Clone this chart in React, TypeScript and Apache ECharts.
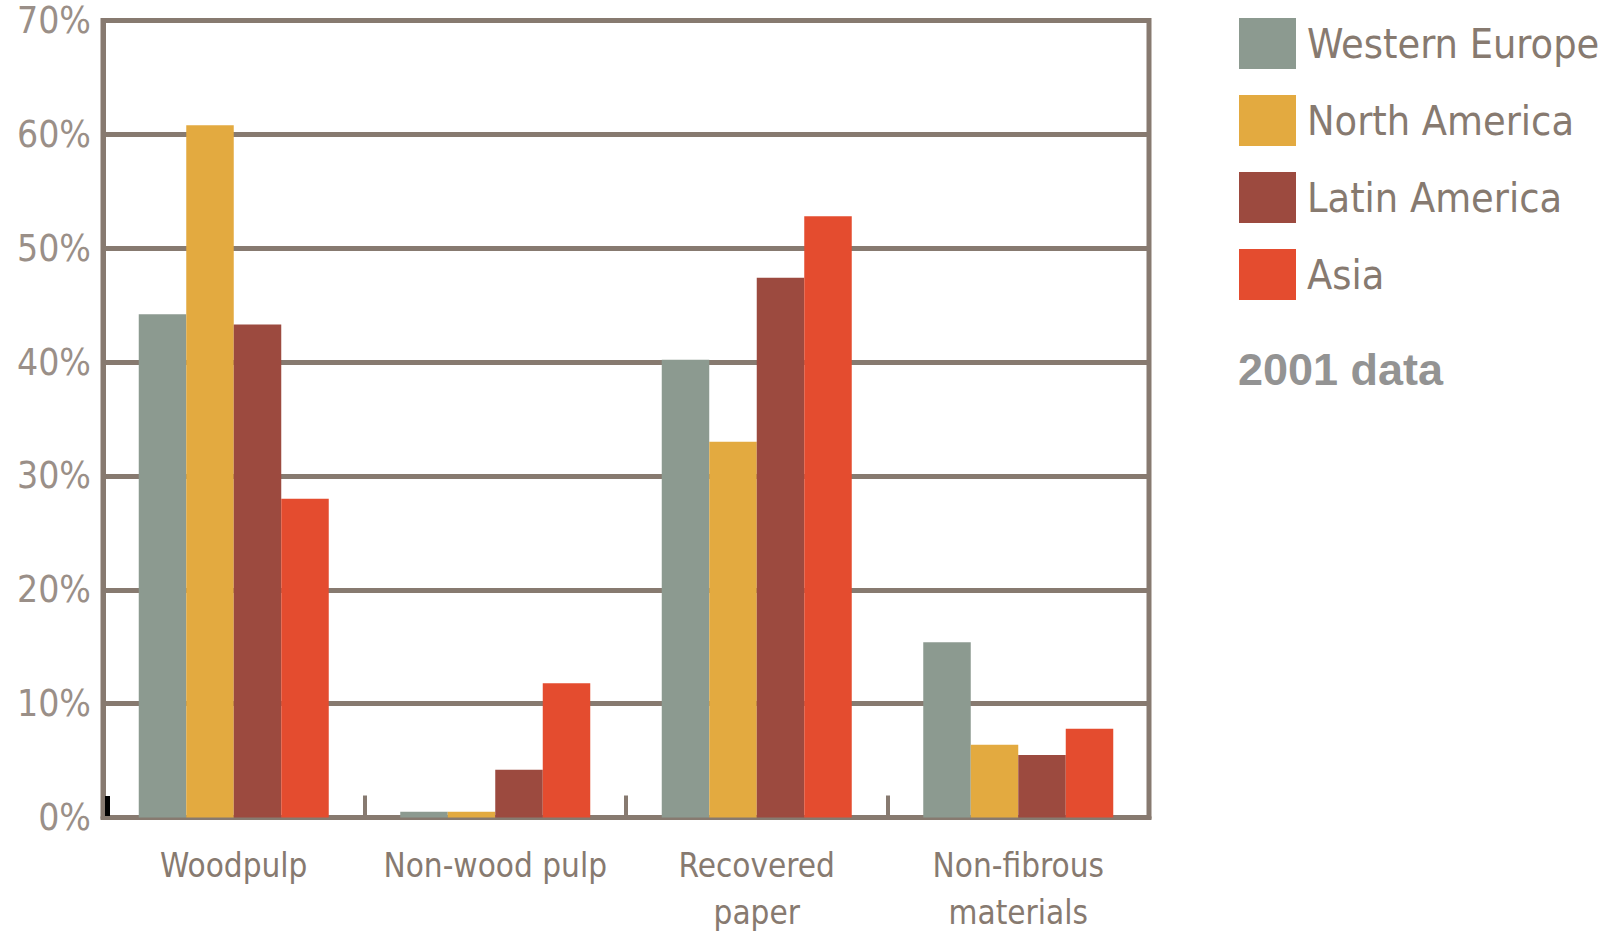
import React, { useEffect, useRef } from "react";
import * as echarts from "echarts";

const categories = ["Woodpulp", "Non-wood pulp", "Recovered\npaper", "Non-fibrous\nmaterials"];
const seriesNames = ["Western Europe", "North America", "Latin America", "Asia"];
const westernEurope = [44.2, 0.5, 40.2, 15.4];
const northAmerica = [60.8, 0.5, 33.0, 6.4];
const latinAmerica = [43.3, 4.2, 47.4, 5.5];
const asia = [28.0, 11.8, 52.8, 7.8];
const colors = ["#8c9a90", "#e3aa40", "#9c4a3f", "#e44c2f"];
const yTicks = [0, 10, 20, 30, 40, 50, 60, 70];
const note = "2001 data";

const LINE = "#877a70";
const FONT = "'DejaVu Sans Condensed', 'Liberation Sans Narrow', 'Liberation Sans', sans-serif";

export default function App() {
  const ref = useRef<HTMLDivElement>(null);
  useEffect(() => {
    document.body.style.margin = "0";
    if (!ref.current) return;
    const chart = echarts.init(ref.current, null, { renderer: "svg" });
    const values = [westernEurope, northAmerica, latinAmerica, asia];
    chart.setOption({
      animation: false,
      backgroundColor: "#ffffff",
      grid: {
        left: 103,
        right: 1622 - 1149,
        top: 20.5,
        bottom: 932 - 817.5,
        outerBoundsMode: "none",
        containLabel: false,
        show: true,
        borderColor: LINE,
        borderWidth: 5,
        backgroundColor: "transparent",
      },
      legend: {
        orient: "vertical",
        left: 1239,
        top: 18,
        padding: 0,
        itemWidth: 57,
        itemHeight: 51,
        itemGap: 26,
        icon: "rect",
        data: seriesNames,
        textStyle: {
          fontFamily: FONT,
          fontSize: 41,
          color: LINE,
          padding: [0, 0, 0, 6],
        },
      },
      xAxis: {
        type: "category",
        data: categories,
        axisLine: { show: true, lineStyle: { color: LINE, width: 5 } },
        axisTick: { show: true, inside: true, interval: 0, length: 22, lineStyle: { color: LINE, width: 4 } },
        axisLabel: {
          interval: 0,
          fontFamily: FONT,
          fontSize: 33,
          color: LINE,
          margin: 24,
          lineHeight: 47,
        },
      },
      yAxis: {
        type: "value",
        min: 0,
        max: 70,
        interval: 10,
        axisLine: { show: true, lineStyle: { color: LINE, width: 5 } },
        axisTick: { show: false },
        splitLine: { show: true, lineStyle: { color: LINE, width: 5 } },
        axisLabel: {
          fontFamily: FONT,
          fontSize: 37,
          color: "#9a8f88",
          margin: 12,
          formatter: (v: number) => (yTicks.includes(v) ? `${v}%` : ""),
        },
      },
      graphic: [
        {
          type: "text",
          left: 1238,
          top: 347,
          style: {
            text: note,
            fontFamily: "'Liberation Sans', Arial, sans-serif",
            fontWeight: "bold",
            fontSize: 45,
            fill: "#939393",
          },
        },
        {
          type: "rect",
          shape: { x: 105, y: 796, width: 5, height: 20 },
          style: { fill: "#000000" },
          z: 10,
        },
      ],
      series: seriesNames.map((name, i) => ({
        name,
        type: "bar",
        data: values[i],
        barWidth: 47.5,
        barGap: "0%",
        itemStyle: { color: colors[i] },
      })),
    });
    return () => chart.dispose();
  }, []);
  return (
    <div
      ref={ref}
      style={{ position: "absolute", left: 0, top: 0, width: 1622, height: 932 }}
    />
  );
}
